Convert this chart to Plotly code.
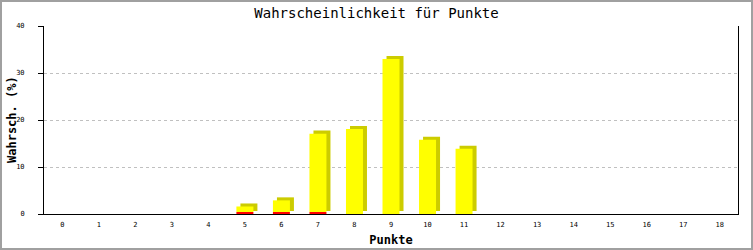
import plotly.graph_objects as go

points = list(range(0, 19))
tick_labels = [str(p) for p in points]
yellow_vals = [0, 0, 0, 0, 0, 1.2, 2.5, 16.7, 18.1, 33.0, 15.8, 13.9, 0, 0, 0, 0, 0, 0, 0]
red_vals = [0, 0, 0, 0, 0, 0.4, 0.4, 0.4, 0, 0, 0, 0, 0, 0, 0, 0, 0, 0, 0]
y_title = "Wahrsch. (%)"

W = 0.465     # bar width (category units)
DX = 0.11     # shadow shift right (category units)
DY = 0.64     # shadow shift up (value units)

fig = go.Figure()
# shadow
fig.add_trace(go.Bar(x=points, y=[y + r for y, r in zip(yellow_vals, red_vals)], base=[DY] * len(points),
                     width=W, offset=-W / 2 + DX, marker=dict(color="#cccc00", line=dict(width=0)),
                     hoverinfo="skip", showlegend=False))
# front faces
fig.add_trace(go.Bar(x=points, y=yellow_vals, base=list(red_vals),
                     width=W, offset=-W / 2, marker=dict(color="#ffff00", line=dict(width=0)),
                     showlegend=False))
fig.add_trace(go.Bar(x=points, y=red_vals, base=[0] * len(points),
                     width=W, offset=-W / 2, marker=dict(color="#ff0000", line=dict(width=0)),
                     showlegend=False))

L, R, T, B = 44, 15, 26, 36
PW, PH = 753 - L - R, 250 - T - B

fig.update_layout(
    width=753, height=250,
    margin=dict(l=L, r=R, t=T, b=B, autoexpand=False),
    barmode="overlay",
    paper_bgcolor="white", plot_bgcolor="white",
    font=dict(family="DejaVu Sans Mono", color="black"),
    title=dict(text="Wahrscheinlichkeit für Punkte", x=0.5, xanchor="center",
               y=1 - 13 / 250, yanchor="middle", yref="container",
               font=dict(size=14, family="DejaVu Sans Mono", color="black")),
    xaxis=dict(range=[-0.5, 18.5], tickmode="array", tickvals=points, ticktext=tick_labels,
               showgrid=False, zeroline=False, showline=True, linecolor="black", linewidth=1,
               ticks="", tickfont=dict(size=7, color="black"), ticklabelstandoff=4, automargin=True,
               title=dict(text="<b>Punkte</b>", font=dict(size=12), standoff=7)),
    yaxis=dict(range=[0, 40], tickvals=[0, 10, 20, 30, 40], showgrid=True,
               gridcolor="#c0c0c0", griddash="dot", gridwidth=1, automargin=False,
               zeroline=False, showline=True, linecolor="black", linewidth=1, mirror=True,
               ticks="outside", ticklen=5, tickcolor="black", tickfont=dict(size=7, color="black"),
               ticklabelstandoff=12),
    annotations=[dict(text="<b>" + y_title + "</b>", xref="paper", yref="paper",
                      x=(12 - L) / PW, y=0.5, xanchor="center", yanchor="middle",
                      textangle=-90, showarrow=False, font=dict(size=12, color="black"))],
    shapes=[dict(type="rect", xref="paper", yref="paper",
                 x0=(1 - L) / PW, x1=(752 - L) / PW,
                 y0=(T + PH - 249) / PH, y1=(T + PH - 1) / PH,
                 line=dict(color="#a0a0a0", width=2), fillcolor="rgba(0,0,0,0)", layer="below")],
)

fig.write_html("out.html")
